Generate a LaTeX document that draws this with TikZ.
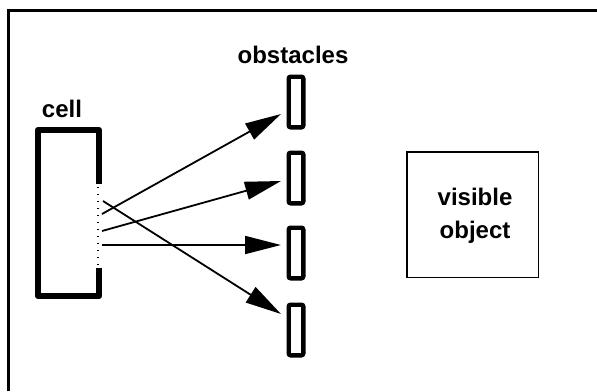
\documentclass[tikz,border=0pt]{standalone}
\usepackage{fontspec}
\setmainfont{Liberation Sans}
\usetikzlibrary{arrows.meta,positioning}

\tikzset{
	obst/.style={draw, line width=2.2pt, rounded corners=1pt, inner sep=0pt,
		minimum width=7.3pt, minimum height=25.3pt},
	ray/.style={line width=0.9pt, -{Triangle[length=18pt,width=9pt]}}
}

\begin{document}
\begin{tikzpicture}[x=0.5pt, y=-0.5pt, font=\fontsize{12}{16.5}\selectfont\bfseries]
		\useasboundingbox (0,0) rectangle (597,391);
		% frame
		\draw[line width=1.5pt] (8,391) -- (8,10) -- (597,10);
		% cell with its open side
		\draw[line width=3pt, line join=round] (99,184) -- (99,130) -- (38,130) -- (38,296) -- (99,296) -- (99,268);
		\draw[line width=0.8pt, dash pattern=on 0.7pt off 2.8pt] (98,187) -- (98,266);
		\node (celllabel) at (62,109) {cell};
		% obstacles
		\foreach \i/\y in {1/102,2/178,3/253,4/330} {
			\node[obst] (ob\i) at (296,\y) {};
		}
		\node (oblabel) at (293,55) {obstacles};
		% visible object
		\node[draw, line width=0.75pt, minimum width=65.75pt, minimum height=62.75pt] (vis) at (472.5,214.5) {};
		\node[align=center] (vislabel) at (475,216) {visible\\object};
		% rays
		\coordinate (s1) at (102,214);
		\coordinate (s2) at (102,231);
		\coordinate (s3) at (102,245);
		\coordinate (s4) at (103,201);
		\coordinate (t1) at (281,114);
		\coordinate (t2) at (281,181);
		\coordinate (t3) at (281,245);
		\coordinate (t4) at (281,314);
		\foreach \i in {1,...,4} {
			\draw[ray] (s\i) -- (t\i);
		}
	\end{tikzpicture}
\end{document}
